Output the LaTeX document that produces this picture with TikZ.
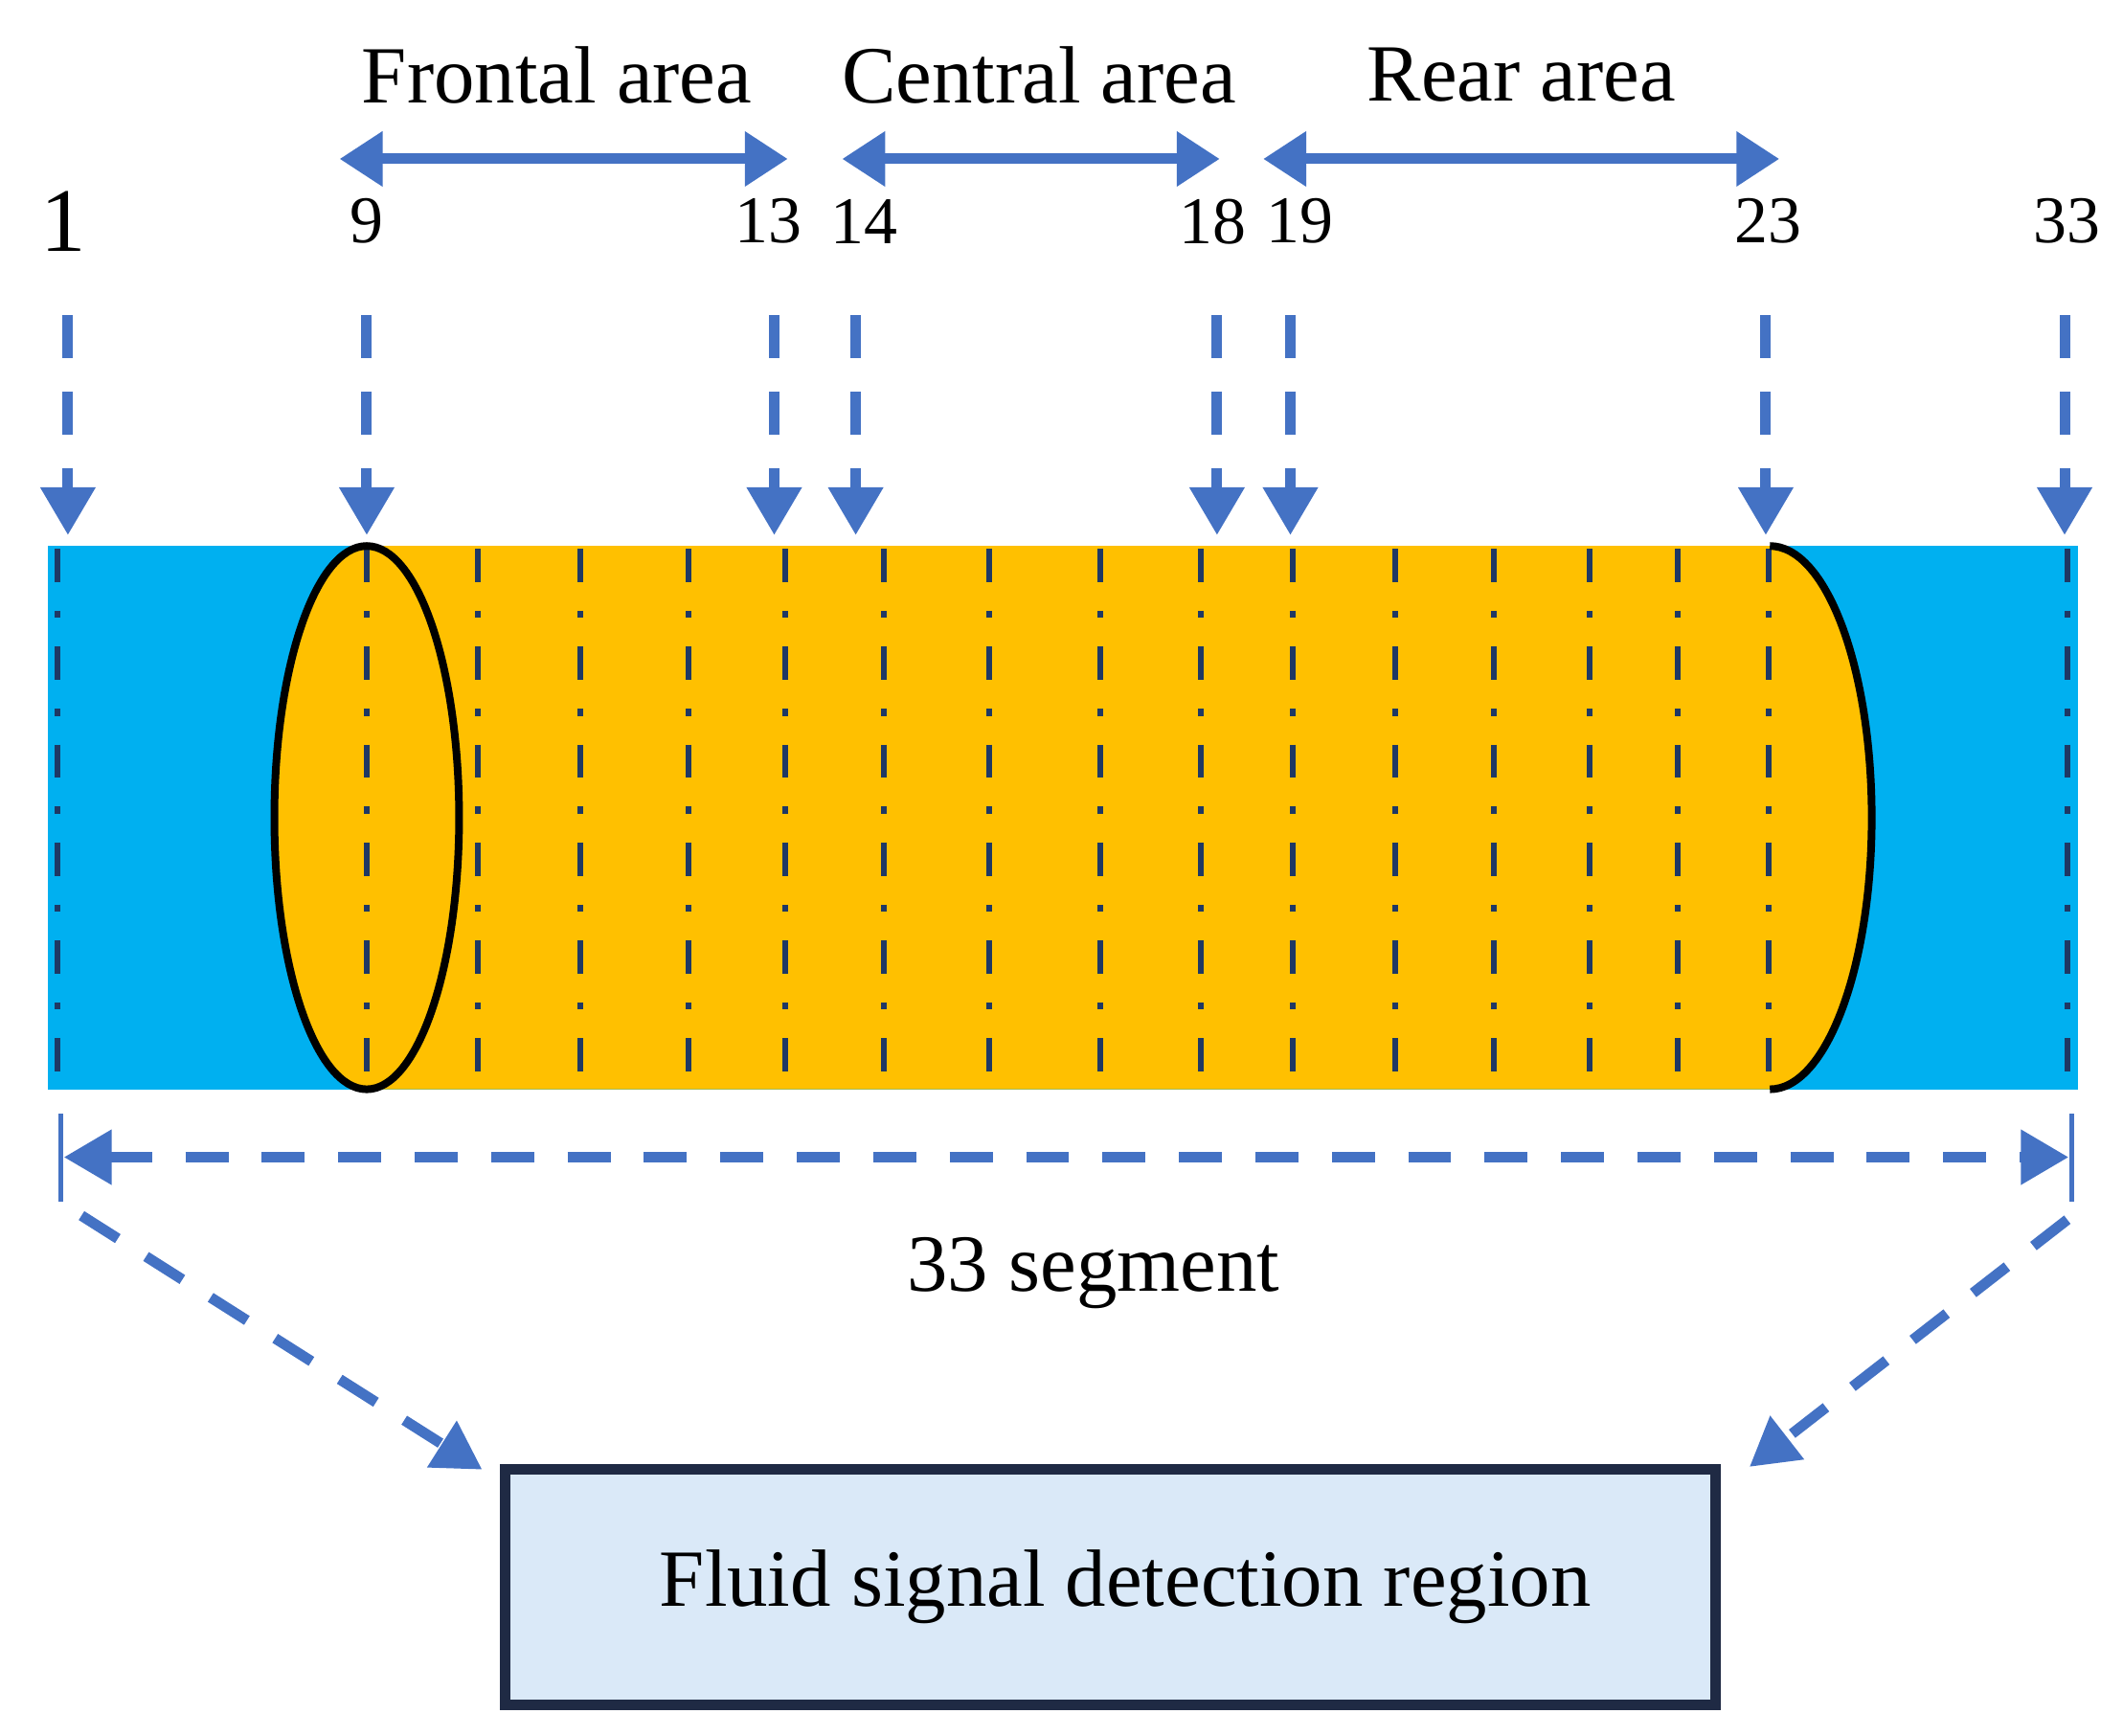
\documentclass[tikz,border=0pt]{standalone}
\usepackage{fontspec}
\setmainfont{Liberation Serif}
\usetikzlibrary{arrows.meta}
\definecolor{ablue}{HTML}{4472C4}
\definecolor{cyanb}{HTML}{00B0F0}
\definecolor{orng}{HTML}{FFC000}
\definecolor{navy}{HTML}{1F3864}
\definecolor{boxf}{HTML}{DAE9F8}
\definecolor{boxd}{HTML}{1F2A44}
\begin{document}
\begin{tikzpicture}[x=0.01cm,y=-0.01cm,
  darr/.style={ablue,line width=2.2pt,dash pattern=on 9pt off 7pt,-{Triangle[width=11pt,length=10pt]}},
  sarr/.style={ablue,line width=2.2pt,{Triangle[width=11pt,length=9pt]}-{Triangle[width=11pt,length=9pt]}},
  ddarr/.style={ablue,line width=2.2pt,dash pattern=on 9pt off 7pt,{Triangle[width=11pt,length=10pt]}-{Triangle[width=11pt,length=10pt]}},
  inner/.style={navy,line width=1.2pt,dash pattern=on 7pt off 6pt on 1.5pt off 6pt},
  lbl/.style={font=\fontsize{17}{20}\selectfont},
  num/.style={font=\fontsize{14}{17}\selectfont}]
\useasboundingbox (0,0) rectangle (1563,1278);
% blue pipe
\fill[cyanb] (35,402) rectangle (1530,802);
% orange body
\fill[orng] (270,402) -- (1303,402) arc[start angle=-90,end angle=90,x radius=75,y radius=200] -- (270,802) -- cycle;
\fill[orng] (270,602) ellipse[x radius=68,y radius=200];
% inner dash-dot lines
\foreach \x in {42,270,352,427,507,578,651,728,810,884,952,1027,1100,1170,1235,1302,1522}
  \draw[inner] (\x,404) -- (\x,800);
\draw[black,line width=1.6pt] (270,602) ellipse[x radius=68,y radius=200];
\draw[black,line width=1.6pt] (1303,402) arc[start angle=-90,end angle=90,x radius=75,y radius=200];
% labels
\node[lbl] (fa) at (410,55) {Frontal area};
\node[lbl] (ca) at (765,55) {Central area};
\node[lbl] (ra) at (1120,55) {Rear area};
\coordinate (f1) at (250,117); \coordinate (f2) at (580,117);
\coordinate (c1) at (620,117); \coordinate (c2) at (898,117);
\coordinate (r1) at (930,117); \coordinate (r2) at (1310,117);
\draw[sarr] (f1) -- (f2);
\draw[sarr] (c1) -- (c2);
\draw[sarr] (r1) -- (r2);
\node[font=\fontsize{19}{22}\selectfont] (n1) at (47,163) {1};
\foreach \n/\lx/\ax in {9/270/270,13/566/570,14/636/630,18/893/896,19/957/950,23/1302/1300,33/1522/1520}{
  \node[num] (n\n) at (\lx,163) {\n};
  \coordinate (s\n) at (\ax,232);
  \coordinate (e\n) at (\ax,394);
  \draw[darr] (s\n) -- (e\n);
}
\coordinate (s1) at (50,232); \coordinate (e1) at (50,394);
\draw[darr] (s1) -- (e1);
% bottom span
\coordinate (t1a) at (45,820); \coordinate (t1b) at (45,885);
\coordinate (t2a) at (1525,820); \coordinate (t2b) at (1525,885);
\draw[ablue,line width=1pt] (t1a) -- (t1b);
\draw[ablue,line width=1pt] (t2a) -- (t2b);
\coordinate (b1) at (47,852); \coordinate (b2) at (1523,852);
\draw[ddarr] (b1) -- (b2);
\node[lbl] (seg) at (805,937) {33 segment};
% box
\node[draw=boxd,fill=boxf,line width=2.2pt,inner sep=0pt,
  minimum width=8.91cm,minimum height=1.73cm,lbl] (box) at (817.5,1168.5) {\hspace*{0.22cm}Fluid signal detection region};
\coordinate (d1) at (60,895); \coordinate (d2) at (1522,898);
\coordinate (g1) at (355,1082); \coordinate (g2) at (1288,1080);
\draw[darr] (d1) -- (g1);
\draw[darr] (d2) -- (g2);
\end{tikzpicture}
\end{document}
